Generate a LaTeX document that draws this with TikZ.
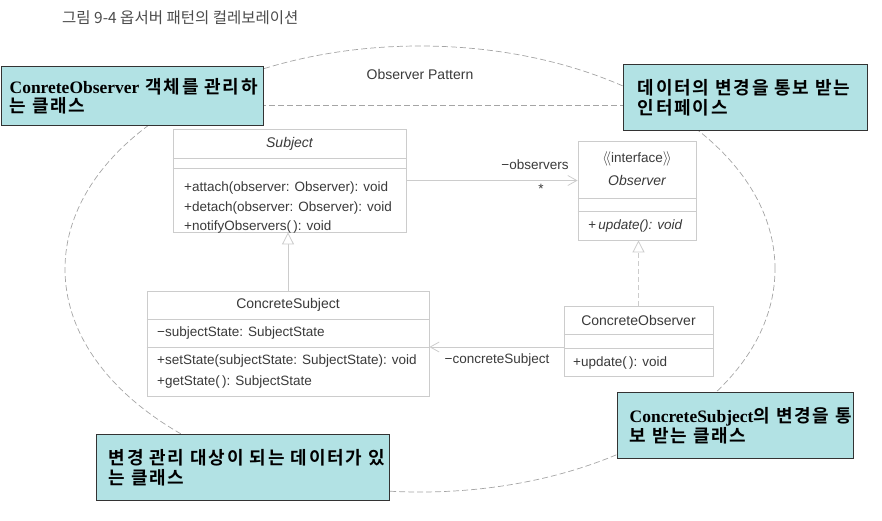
\documentclass[tikz,border=0pt]{standalone}
\usepackage{fontspec}
\setmainfont{Liberation Sans}
\newfontfamily\krfont{Noto Sans CJK KR}
\newfontfamily\krbold[LetterSpace=10]{Noto Sans CJK KR Bold}
\newfontfamily\notelatin[Scale=0.97]{Liberation Serif}
\usepackage{tikz}
\usetikzlibrary{arrows.meta}
\usetikzlibrary{shadows}
\usepackage{xcolor}
\definecolor{notefill}{RGB}{178,226,228}
\definecolor{umlline}{RGB}{204,204,204}
\definecolor{umltext}{RGB}{58,58,58}
\definecolor{collabline}{RGB}{165,165,165}

\begin{document}
\begin{tikzpicture}[x=1pt,y=-1pt,
  classbox/.style={draw=umlline,fill=white,line width=0.8pt,inner sep=0pt,
    drop shadow={shadow xshift=1.3pt,shadow yshift=-1.3pt,fill=black!12,opacity=1}},
  classname/.style={inner sep=0pt,text=umltext,font=\fontsize{14}{16}\selectfont},
  member/.style={anchor=west,inner sep=0pt,text=umltext,font=\fontsize{13.5}{16}\selectfont},
  umlsep/.style={draw=umlline,line width=0.8pt},
  assoc/.style={draw=umlline,line width=0.8pt,-{Straight Barb[length=9pt,width=10pt]}},
  inherit/.style={draw=umlline,line width=0.8pt,-{Triangle[open,length=12pt,width=12pt,fill=white]}},
  realize/.style={inherit,dash pattern=on 5pt off 3pt},
  collab/.style={draw=collabline,line width=0.7pt,dash pattern=on 6pt off 3pt},
  note/.style={draw=black!80,line width=1.4pt,fill=notefill,anchor=north west,align=left,
    inner ysep=0pt,font=\fontsize{18}{19.5}\selectfont\krbold}]
\useasboundingbox (0,0) rectangle (882,520);

\node[anchor=west,inner sep=0pt,text=black!70,font=\fontsize{15.5}{17}\selectfont\krfont] (title) at (62,18) {그림 9-4 옵서버 패턴의 컬레보레이션};

\draw[collab] (420,269) ellipse [x radius=355pt,y radius=223pt];
\draw[collab] (179.4,105) -- (660.6,105);
\node[inner sep=0pt,text=umltext,font=\fontsize{14}{16}\selectfont] (collabname) at (420,74) {Observer Pattern};

\node[classbox,minimum width=233pt,minimum height=103pt] (subject) at (289.5,180.5) {};
\draw[umlsep] (subject.west |- 0,158) -- (subject.east |- 0,158);
\draw[umlsep] (subject.west |- 0,168) -- (subject.east |- 0,168);
\node[classname,font=\fontsize{14}{16}\selectfont\itshape] (subjectname) at (289.5,144) {Subject};
\node[member] (attach) at (184,188) {+attach(observer: Observer): void};
\node[member] (detach) at (184,208) {+detach(observer: Observer): void};
\node[member] (notify) at (184,227) {+notifyObservers(\,): void};

\node[classbox,minimum width=118pt,minimum height=99pt] (observer) at (637,190.5) {};
\draw[umlsep] (observer.west |- 0,198) -- (observer.east |- 0,198);
\draw[umlsep] (observer.west |- 0,211) -- (observer.east |- 0,211);
\node[classname,font=\fontsize{13.5}{16}\selectfont] (stereo) at (637,159) {$\langle\!\langle$interface$\rangle\!\rangle$};
\node[classname,font=\fontsize{14}{16}\selectfont\itshape] (observername) at (637,180) {Observer};
\node[member,font=\fontsize{13.5}{16}\selectfont\itshape] (update) at (588,226) {+\,update(): void};

\node[classbox,minimum width=282pt,minimum height=105pt] (csubject) at (288,343.5) {};
\draw[umlsep] (csubject.west |- 0,319) -- (csubject.east |- 0,319);
\draw[umlsep] (csubject.west |- 0,347) -- (csubject.east |- 0,347);
\node[classname] (csubjectname) at (288,305) {ConcreteSubject};
\node[member] (state) at (157,333) {−subjectState: SubjectState};
\node[member] (setstate) at (157,361) {+setState(subjectState: SubjectState): void};
\node[member] (getstate) at (157,382) {+getState(\,): SubjectState};

\node[classbox,minimum width=149pt,minimum height=70pt] (cobserver) at (638.5,341) {};
\draw[umlsep] (cobserver.west |- 0,334) -- (cobserver.east |- 0,334);
\draw[umlsep] (cobserver.west |- 0,348) -- (cobserver.east |- 0,348);
\node[classname] (cobservername) at (638.5,320) {ConcreteObserver};
\node[member] (cupdate) at (573,363) {+update(\,): void};

\draw[assoc] (subject.east) -- (subject.east -| observer.west);
\node[member,anchor=center] (observers) at (535,165) {−observers};
\node[member,anchor=center] (many) at (541,189) {*};
\draw[inherit] (csubject.north) -- (csubject.north |- subject.south);
\draw[realize] (cobserver.north) -- (cobserver.north |- observer.south);
\path ([yshift=-6pt]cobserver.west) coordinate (cobsleft);
\draw[assoc] (cobsleft) -- (cobsleft -| csubject.east);
\node[member,anchor=center] (csublabel) at (497,360) {−concreteSubject};

\node[note,text width=246pt,inner xsep=8pt,minimum height=59pt] (noteobs) at (1,66)
  {\mbox{{\notelatin\bfseries ConreteObserver} 객체를 관리하}\\는 클래스};
\node[note,text width=216pt,inner xsep=14pt,minimum height=66pt] (noteiface) at (623,64)
  {\mbox{데이터의 변경을 통보 받는}\\인터페이스};
\node[note,text width=269pt,inner xsep=12pt,minimum height=66pt] (notedata) at (96,434)
  {\mbox{변경 관리 대상이 되는 데이터가 있}\\는 클래스};
\node[note,text width=212pt,inner xsep=12pt,minimum height=66pt] (notecsub) at (617,392)
  {\mbox{{\notelatin\bfseries ConcreteSubject}의 변경을 통}\\보 받는 클래스};
\end{tikzpicture}
\end{document}
